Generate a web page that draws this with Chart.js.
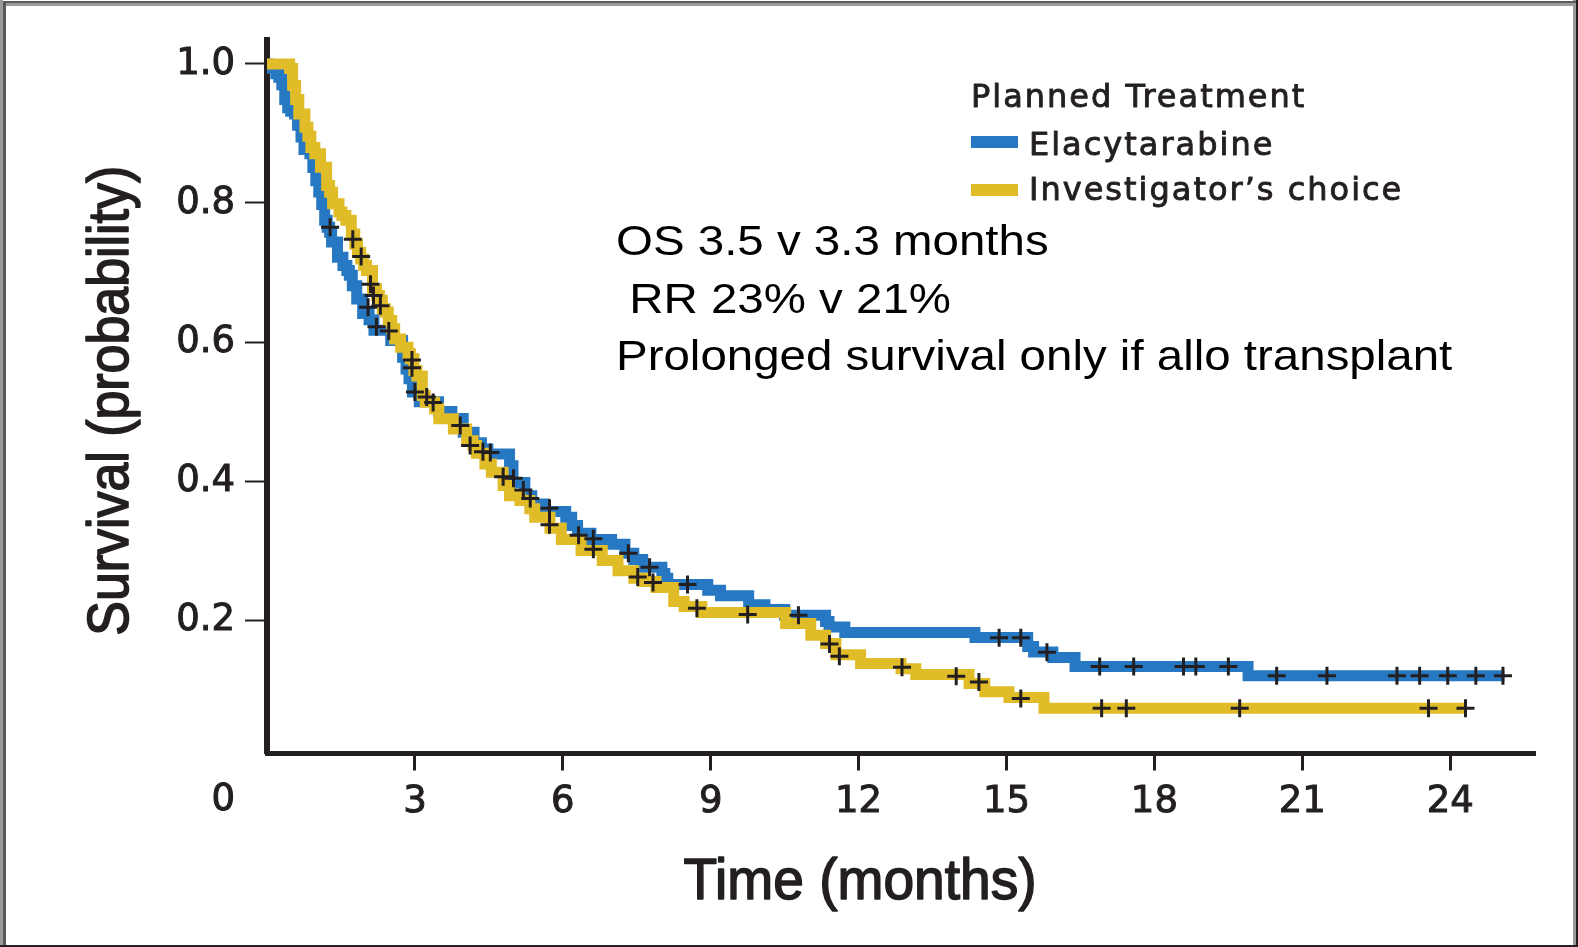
<!DOCTYPE html>
<html>
<head>
<meta charset="utf-8">
<script src="https://cdn.jsdelivr.net/npm/chart.js@4.4.1/dist/chart.umd.min.js"></script>
<style>
  html, body { margin: 0; padding: 0; background: #fff; }
  #wrap { width: 1578px; height: 947px; }
</style>
</head>
<body>
<div id="wrap"><canvas id="km" width="1578" height="947"></canvas></div>
<script>
// Kaplan-Meier steps: time (months) where each survival level begins
const elacyTime = [0, 0.02, 0.18, 0.24, 0.30, 0.36, 0.42, 0.48, 0.56, 0.62, 0.69, 0.75, 0.87, 0.93, 0.99, 1.05, 1.11, 1.17, 1.22, 1.27, 1.31, 1.43, 1.54, 1.62, 1.67, 1.73, 1.82, 1.94, 2.07, 2.17, 2.51, 2.75, 2.82, 2.88, 2.95, 3.09, 3.48, 3.75, 3.98, 4.20, 4.35, 4.48, 4.92, 4.99, 5.23, 5.37, 5.62, 6.06, 6.18, 6.30, 6.57, 6.99, 7.26, 7.44, 7.62, 8.01, 8.07, 8.13, 8.94, 9.20, 9.77, 10.10, 10.50, 11.33, 11.40, 11.72, 14.36, 15.43, 15.55, 15.94, 16.39, 19.90, 25.10];
const elacySurv = [1.0, 0.994, 0.986, 0.981, 0.970, 0.949, 0.937, 0.932, 0.928, 0.912, 0.895, 0.877, 0.871, 0.851, 0.832, 0.816, 0.798, 0.775, 0.765, 0.758, 0.744, 0.722, 0.710, 0.703, 0.696, 0.681, 0.662, 0.641, 0.632, 0.617, 0.602, 0.578, 0.561, 0.547, 0.528, 0.514, 0.500, 0.490, 0.470, 0.455, 0.446, 0.439, 0.422, 0.398, 0.379, 0.367, 0.356, 0.348, 0.336, 0.325, 0.316, 0.309, 0.296, 0.287, 0.276, 0.267, 0.260, 0.251, 0.243, 0.235, 0.222, 0.215, 0.207, 0.198, 0.190, 0.182, 0.175, 0.162, 0.154, 0.146, 0.133, 0.120, 0.120];

const invTime = [0, 0.46, 0.52, 0.58, 0.645, 0.77, 0.83, 0.89, 0.97, 1.085, 1.21, 1.27, 1.33, 1.46, 1.52, 1.60, 1.71, 1.78, 1.835, 1.90, 1.96, 2.02, 2.14, 2.22, 2.28, 2.34, 2.40, 2.46, 2.53, 2.59, 2.71, 2.86, 2.91, 2.98, 3.04, 3.15, 3.21, 3.40, 3.485, 3.78, 4.05, 4.18, 4.25, 4.42, 4.55, 4.79, 4.92, 5.13, 5.33, 5.43, 5.74, 5.97, 6.37, 6.80, 7.12, 7.44, 7.62, 7.89, 8.25, 8.46, 8.82, 10.52, 11.03, 11.33, 11.54, 12.04, 12.86, 13.16, 14.24, 14.56, 15.05, 15.76, 24.31];
const invSurv = [1.0, 0.9935, 0.969, 0.949, 0.928, 0.909, 0.896, 0.880, 0.871, 0.8515, 0.825, 0.8155, 0.799, 0.787, 0.782, 0.775, 0.7555, 0.741, 0.729, 0.7195, 0.710, 0.703, 0.6765, 0.667, 0.660, 0.648, 0.643, 0.631, 0.619, 0.6045, 0.5925, 0.583, 0.576, 0.559, 0.551, 0.523, 0.5135, 0.504, 0.4895, 0.475, 0.458, 0.451, 0.440, 0.4245, 0.4127, 0.3935, 0.379, 0.372, 0.360, 0.348, 0.332, 0.316, 0.300, 0.2856, 0.271, 0.260, 0.2554, 0.2468, 0.2266, 0.2194, 0.211, 0.195, 0.178, 0.1664, 0.150, 0.1374, 0.130, 0.1216, 0.1086, 0.097, 0.0885, 0.073, 0.073];

// censored observations (+)
const elacyCensorTime = [1.28, 2.05, 2.22, 2.47, 3.00, 3.37, 4.38, 5.00, 5.73, 6.62, 7.33, 7.76, 8.53, 10.78, 14.85, 15.29, 15.82, 16.89, 17.58, 18.59, 18.84, 19.50, 20.48, 21.50, 22.92, 23.38, 23.95, 24.52, 25.07];
const elacyCensorSurv = [0.765, 0.650, 0.622, 0.616, 0.528, 0.513, 0.442, 0.404, 0.361, 0.317, 0.296, 0.276, 0.251, 0.207, 0.1745, 0.1745, 0.1535, 0.133, 0.133, 0.133, 0.133, 0.133, 0.120, 0.120, 0.120, 0.120, 0.120, 0.120, 0.120];
const invCensorTime = [1.74, 1.91, 2.10, 2.16, 2.30, 2.94, 2.94, 3.24, 3.92, 4.12, 4.53, 4.79, 5.20, 5.34, 5.73, 6.32, 6.62, 7.52, 7.83, 8.72, 9.75, 11.41, 11.61, 12.88, 13.98, 14.44, 15.29, 16.93, 17.43, 19.73, 23.56, 24.31];
const invCensorSurv = [0.748, 0.723, 0.683, 0.667, 0.652, 0.574, 0.563, 0.521, 0.480, 0.451, 0.441, 0.406, 0.387, 0.375, 0.337, 0.322, 0.302, 0.262, 0.254, 0.217, 0.208, 0.1655, 0.148, 0.132, 0.119, 0.111, 0.087, 0.073, 0.073, 0.073, 0.073, 0.073];

const xTicks = [3, 6, 9, 12, 15, 18, 21, 24];
const yTicks = [0.2, 0.4, 0.6, 0.8, 1.0];

const seriesNames = ["Elacytarabine", "Investigator\u2019s choice"];
const legendTitle = "Planned Treatment";
const noteLines = ["OS 3.5 v 3.3 months", " RR 23% v 21%", "Prolonged survival only if allo transplant"];
const xTitle = "Time (months)";
const yTitle = "Survival (probability)";

const BLUE = "#2778c2";
const YELLOW = "#e0bc29";
const INK = "#231f20";

function pts(xs, ys) {
  return xs.map((x, i) => ({ x: x, y: ys[i] }));
}

// fill + thin stroke so the text has the weight of the original print
function heavyText(ctx, text, x, y, w) {
  ctx.fillText(text, x, y);
  ctx.lineWidth = w;
  ctx.strokeText(text, x, y);
}

const decorations = {
  id: "decorations",
  beforeDraw(chart) {
    const ctx = chart.ctx;
    ctx.save();
    ctx.fillStyle = "#fff";
    ctx.fillRect(0, 0, chart.width, chart.height);
    // picture frame
    ctx.fillStyle = "#9a9a9a";
    ctx.fillRect(0, 0, 3, 947);
    ctx.fillRect(6, 3, 1572, 3);
    ctx.fillRect(1573, 0, 3, 947);
    ctx.fillStyle = "#5a5a5a";
    ctx.fillRect(3, 1, 1575, 2);
    ctx.fillRect(3, 3, 3, 944);
    ctx.fillStyle = INK;
    ctx.fillRect(1576, 0, 2, 947);
    ctx.fillRect(0, 945, 1578, 2);
    ctx.restore();
  },
  afterDraw(chart) {
    const ctx = chart.ctx;
    const ys = chart.scales.y;
    ctx.save();
    ctx.fillStyle = INK;
    ctx.strokeStyle = INK;
    ctx.lineJoin = "round";

    // origin label
    ctx.font = '37px "DejaVu Sans"';
    ctx.textAlign = "right";
    ctx.textBaseline = "middle";
    heavyText(ctx, "0", ys.right - 32, 800, 1);

    // axis titles
    ctx.save();
    ctx.font = '58px "Liberation Sans"';
    ctx.textAlign = "center";
    ctx.textBaseline = "alphabetic";
    ctx.translate(860, 899);
    ctx.scale(0.95, 1);
    heavyText(ctx, xTitle, 0, 0, 1.6);
    ctx.restore();

    ctx.save();
    ctx.font = '57px "Liberation Sans"';
    ctx.textAlign = "center";
    ctx.textBaseline = "alphabetic";
    ctx.translate(128, (ys.top + ys.bottom) / 2 + 4);
    ctx.rotate(-Math.PI / 2);
    ctx.scale(0.91, 1);
    heavyText(ctx, yTitle, 0, 0, 1.6);
    ctx.restore();

    // legend
    ctx.font = '32px "DejaVu Sans"';
    ctx.letterSpacing = "2px";
    ctx.textAlign = "left";
    ctx.textBaseline = "alphabetic";
    heavyText(ctx, legendTitle, 971, 107, 0.9);
    ctx.fillStyle = BLUE;
    ctx.fillRect(971, 136, 47, 12);
    ctx.fillStyle = YELLOW;
    ctx.fillRect(971, 184, 47, 12);
    ctx.fillStyle = INK;
    heavyText(ctx, seriesNames[0], 1029, 155, 0.9);
    heavyText(ctx, seriesNames[1], 1029, 200, 0.9);
    ctx.letterSpacing = "0px";

    // notes
    ctx.fillStyle = "#000";
    ctx.font = '42px "Liberation Sans"';
    noteLines.forEach((line, i) => {
      ctx.save();
      ctx.translate(616, 255 + i * 57.5);
      ctx.scale(1.13, 1);
      ctx.fillText(line, 0, 0);
      ctx.restore();
    });
    ctx.restore();
  }
};

new Chart(document.getElementById("km"), {
  type: "line",
  data: {
    datasets: [
      {
        label: seriesNames[0] + " censored",
        data: pts(elacyCensorTime, elacyCensorSurv),
        showLine: false,
        pointStyle: "cross",
        pointRadius: 9,
        pointBorderWidth: 3,
        pointBorderColor: INK,
        order: 0
      },
      {
        label: seriesNames[1] + " censored",
        data: pts(invCensorTime, invCensorSurv),
        showLine: false,
        pointStyle: "cross",
        pointRadius: 9,
        pointBorderWidth: 3,
        pointBorderColor: INK,
        order: 0
      },
      {
        label: seriesNames[1],
        data: pts(invTime, invSurv),
        stepped: true,
        borderColor: YELLOW,
        borderWidth: 11,
        borderJoinStyle: "miter",
        pointRadius: 0,
        fill: false,
        order: 1
      },
      {
        label: seriesNames[0],
        data: pts(elacyTime, elacySurv),
        stepped: true,
        borderColor: BLUE,
        borderWidth: 11,
        borderJoinStyle: "miter",
        pointRadius: 0,
        fill: false,
        order: 2
      }
    ]
  },
  options: {
    responsive: false,
    animation: false,
    devicePixelRatio: 1,
    layout: { padding: { left: 0, top: 40, right: 43, bottom: 0 } },
    plugins: {
      legend: { display: false },
      tooltip: { enabled: false }
    },
    scales: {
      x: {
        type: "linear",
        min: 0,
        max: 25.72,
        afterFit: (s) => { s.height = 193.5; },
        afterBuildTicks: (s) => { s.ticks = xTicks.map((v) => ({ value: v })); },
        border: { display: true, color: INK, width: 5 },
        grid: { drawOnChartArea: false, drawTicks: true, tickLength: 17, tickWidth: 3, tickColor: INK },
        ticks: {
          color: INK,
          padding: 10,
          maxRotation: 0,
          textStrokeColor: INK,
          textStrokeWidth: 1,
          font: { family: '"DejaVu Sans"', size: 37 }
        }
      },
      y: {
        type: "linear",
        min: 0.008,
        max: 1.0345,
        afterFit: (s) => { s.width = 267; },
        afterBuildTicks: (s) => { s.ticks = yTicks.map((v) => ({ value: v })); },
        border: { display: true, color: INK, width: 6 },
        grid: { drawOnChartArea: false, drawTicks: true, tickLength: 22, tickWidth: 2, tickColor: INK },
        ticks: {
          color: INK,
          padding: 10,
          textStrokeColor: INK,
          textStrokeWidth: 1,
          callback: (v) => Number(v).toFixed(1),
          font: { family: '"DejaVu Sans"', size: 37 }
        }
      }
    }
  },
  plugins: [decorations]
});
</script>
</body>
</html>
